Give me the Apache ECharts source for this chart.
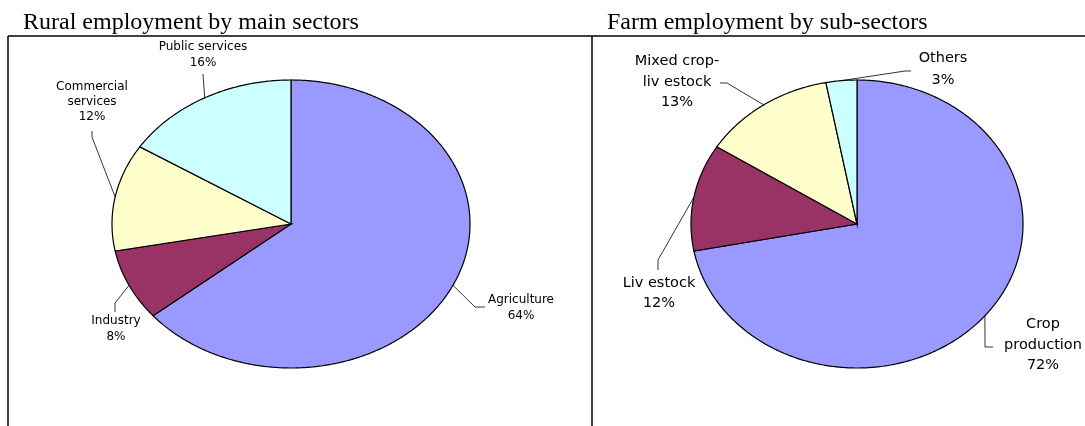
<!DOCTYPE html>
<html>
<head>
<meta charset="utf-8">
<script src="https://cdn.jsdelivr.net/npm/echarts@6/dist/echarts.min.js"></script>
<style>
  html, body { margin: 0; padding: 0; background: #fff; }
  #main { width: 1085px; height: 426px; }
</style>
</head>
<body>
<div id="main"></div>
<script>
// rural employment by main sectors (% of jobs)
var ruralSectors = ['Agriculture', 'Industry', 'Commercial\nservices', 'Public services'];
var ruralShares = [64, 8, 12, 16];

// farm employment by sub-sectors (%)
var farmSectors = ['Crop\nproduction', 'Liv estock', 'Mixed crop-\nliv estock', 'Others'];
var farmShares = [72, 12, 13, 3];

var sliceColors = ['#9999ff', '#993366', '#ffffcc', '#ccffff'];

// ellipse + label placement (label centre, leader elbow and end)
var ruralPie = {
  cx: 291, cy: 224, rx: 179, ry: 144, fontSize: 12,
  labels: [
    { x: 521, y: 308, lh: 16, elbow: [475, 307], end: [485, 307] },
    { x: 116, y: 329, lh: 16, elbow: [115, 303], end: [115, 312] },
    { x: 92, y: 102, lh: 15, elbow: [92, 137], end: [92, 131] },
    { x: 203, y: 55, lh: 16, elbow: [203, 75], end: [203, 74] }
  ]
};
var farmPie = {
  cx: 857, cy: 224, rx: 166, ry: 144, fontSize: 14.5,
  labels: [
    { x: 1043, y: 345, lh: 20.5, elbow: [985, 347], end: [993, 347] },
    { x: 659, y: 293, lh: 20, elbow: [658, 260], end: [658, 270] },
    { x: 677, y: 82, lh: 20.5, elbow: [727, 83], end: [720, 83] },
    { x: 943, y: 69, lh: 22, elbow: [905, 71], end: [911, 71] }
  ]
};

function pieRenderer(pie, names, values) {
  var total = values.reduce(function (a, b) { return a + b; }, 0);
  return function (params, api) {
    var i = params.dataIndex;
    var before = 0;
    for (var k = 0; k < i; k++) before += values[k];
    var a0 = before / total * Math.PI * 2;
    var a1 = (before + api.value(0)) / total * Math.PI * 2;
    var pt = function (t) {
      return [pie.cx + pie.rx * Math.sin(t), pie.cy - pie.ry * Math.cos(t)];
    };
    var pts = [[pie.cx, pie.cy]];
    var n = Math.max(2, Math.ceil((a1 - a0) / 0.01));
    for (var j = 0; j <= n; j++) pts.push(pt(a0 + (a1 - a0) * j / n));
    var lab = pie.labels[i];
    var mid = pt((a0 + a1) / 2);
    return {
      type: 'group',
      children: [
        {
          type: 'polygon',
          shape: { points: pts },
          style: { fill: sliceColors[i], stroke: '#000', lineWidth: 1.2 }
        },
        {
          type: 'polyline',
          z2: 10,
          shape: { points: [mid, lab.elbow, lab.end] },
          style: { stroke: '#000', lineWidth: 0.8, fill: 'none' }
        },
        {
          type: 'text',
          z2: 10,
          style: {
            text: names[i] + '\n' + api.value(0) + '%',
            x: lab.x,
            y: lab.y,
            align: 'center',
            verticalAlign: 'middle',
            font: pie.fontSize + 'px "DejaVu Sans"',
            lineHeight: lab.lh,
            fill: '#000'
          }
        }
      ]
    };
  };
}

var chart = echarts.init(document.getElementById('main'));
chart.setOption({
  animation: false,
  graphic: [
    { type: 'text', x: 23, y: 23, style: { text: 'Rural employment by main sectors', font: '24px "Liberation Serif"', fill: '#000', verticalAlign: 'middle' } },
    { type: 'text', x: 607, y: 23, style: { text: 'Farm employment by sub-sectors', font: '24px "Liberation Serif"', fill: '#000', verticalAlign: 'middle' } },
    { type: 'line', shape: { x1: 8, y1: 36, x2: 1085, y2: 36 }, style: { stroke: '#000', lineWidth: 1.5 } },
    { type: 'line', shape: { x1: 8, y1: 36, x2: 8, y2: 426 }, style: { stroke: '#000', lineWidth: 1.5 } },
    { type: 'line', shape: { x1: 592, y1: 36, x2: 592, y2: 426 }, style: { stroke: '#000', lineWidth: 1.5 } }
  ],
  series: [
    {
      type: 'custom',
      name: 'Rural employment',
      coordinateSystem: 'none',
      renderItem: pieRenderer(ruralPie, ruralSectors, ruralShares),
      data: ruralShares
    },
    {
      type: 'custom',
      name: 'Farm employment',
      coordinateSystem: 'none',
      renderItem: pieRenderer(farmPie, farmSectors, farmShares),
      data: farmShares
    }
  ]
});
</script>
</body>
</html>
